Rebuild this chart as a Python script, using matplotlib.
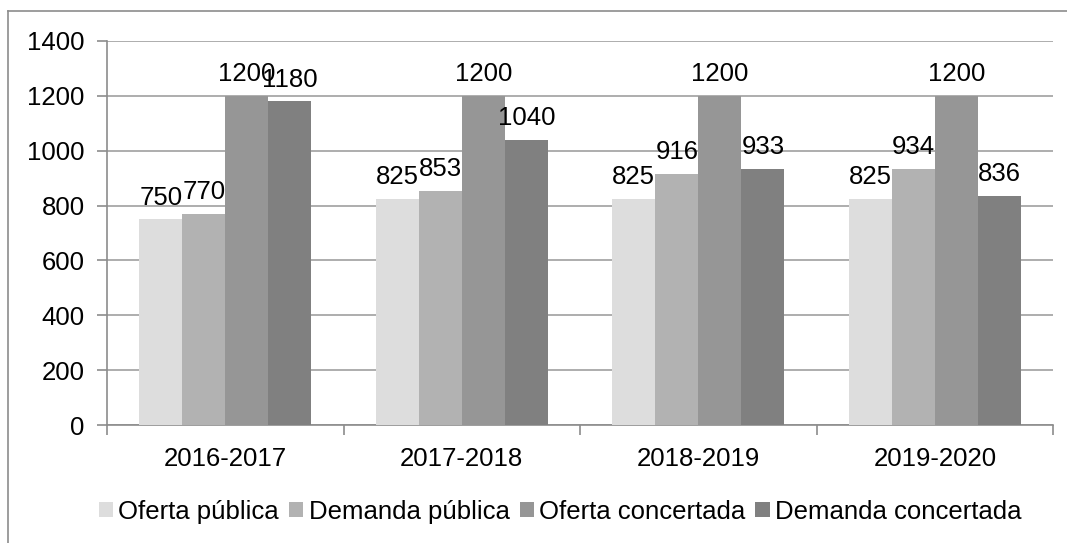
import matplotlib
matplotlib.use("Agg")
import matplotlib.pyplot as plt
import numpy as np
from matplotlib.lines import Line2D

plt.rcParams['font.family'] = ['Liberation Sans', 'DejaVu Sans']

categories = ["2016-2017", "2017-2018", "2018-2019", "2019-2020"]
series_names = ["Oferta pública", "Demanda pública", "Oferta concertada", "Demanda concertada"]
oferta_publica = [750, 825, 825, 825]
demanda_publica = [770, 853, 916, 934]
oferta_concertada = [1200, 1200, 1200, 1200]
demanda_concertada = [1180, 1040, 933, 836]
series_values = [oferta_publica, demanda_publica, oferta_concertada, demanda_concertada]
colors = ["#DDDDDD", "#B2B2B2", "#969696", "#808080"]
yticks = [0, 200, 400, 600, 800, 1000, 1200, 1400]

fig = plt.figure(figsize=(10.67, 5.43), dpi=100)
ax = fig.add_axes([0.1003, 0.2173, 0.8867, 0.7072])

fs = 18.5
n = len(series_values)
bw = 0.182
x = np.arange(len(categories))
for i, (vals, c, name) in enumerate(zip(series_values, colors, series_names)):
    pos = x + (i - (n - 1) / 2) * bw
    ax.bar(pos, vals, width=bw, color=c, label=name, zorder=3)
    for p, v in zip(pos, vals):
        ax.annotate(str(v), (p, v), xytext=(0, 7), textcoords='offset points',
                    ha='center', va='bottom', fontsize=fs, color='black', zorder=4)

ax.set_xlim(-0.5, len(categories) - 0.5)
ax.set_ylim(0, 1400)
ax.set_yticks(yticks)
ax.set_yticklabels([str(t) for t in yticks], fontsize=fs)
ax.set_xticks(x)
ax.set_xticklabels(categories, fontsize=fs)
ax.set_xticks(np.arange(-0.5, len(categories)), minor=True)
ax.tick_params(axis='x', which='major', length=0, pad=16)
ax.tick_params(axis='x', which='minor', length=7, color='#8C8C8C', width=1.2, direction='out')
ax.tick_params(axis='y', length=7, color='#8C8C8C', width=1.2, direction='out', pad=9)
ax.yaxis.grid(True, color='#A0A0A0', linewidth=1.2, zorder=0)
ax.set_axisbelow(True)
for s in ['top', 'right']:
    ax.spines[s].set_visible(False)
for s in ['left', 'bottom']:
    ax.spines[s].set_color('#8C8C8C')
    ax.spines[s].set_linewidth(1.2)

leg = fig.legend(loc='center', bbox_to_anchor=(0.525, 0.058), ncol=4, frameon=False,
                 fontsize=fs, handlelength=0.55, handleheight=0.55, handletextpad=0.2,
                 columnspacing=0.4)

# outer frame (partially visible)
fig.add_artist(Line2D([8/1067, 8/1067], [0, 1 - 11/543], transform=fig.transFigure, color='#8C8C8C', linewidth=1.2))
fig.add_artist(Line2D([8/1067, 1], [1 - 11/543, 1 - 11/543], transform=fig.transFigure, color='#8C8C8C', linewidth=1.2))

fig.savefig("out.png", dpi=100)
